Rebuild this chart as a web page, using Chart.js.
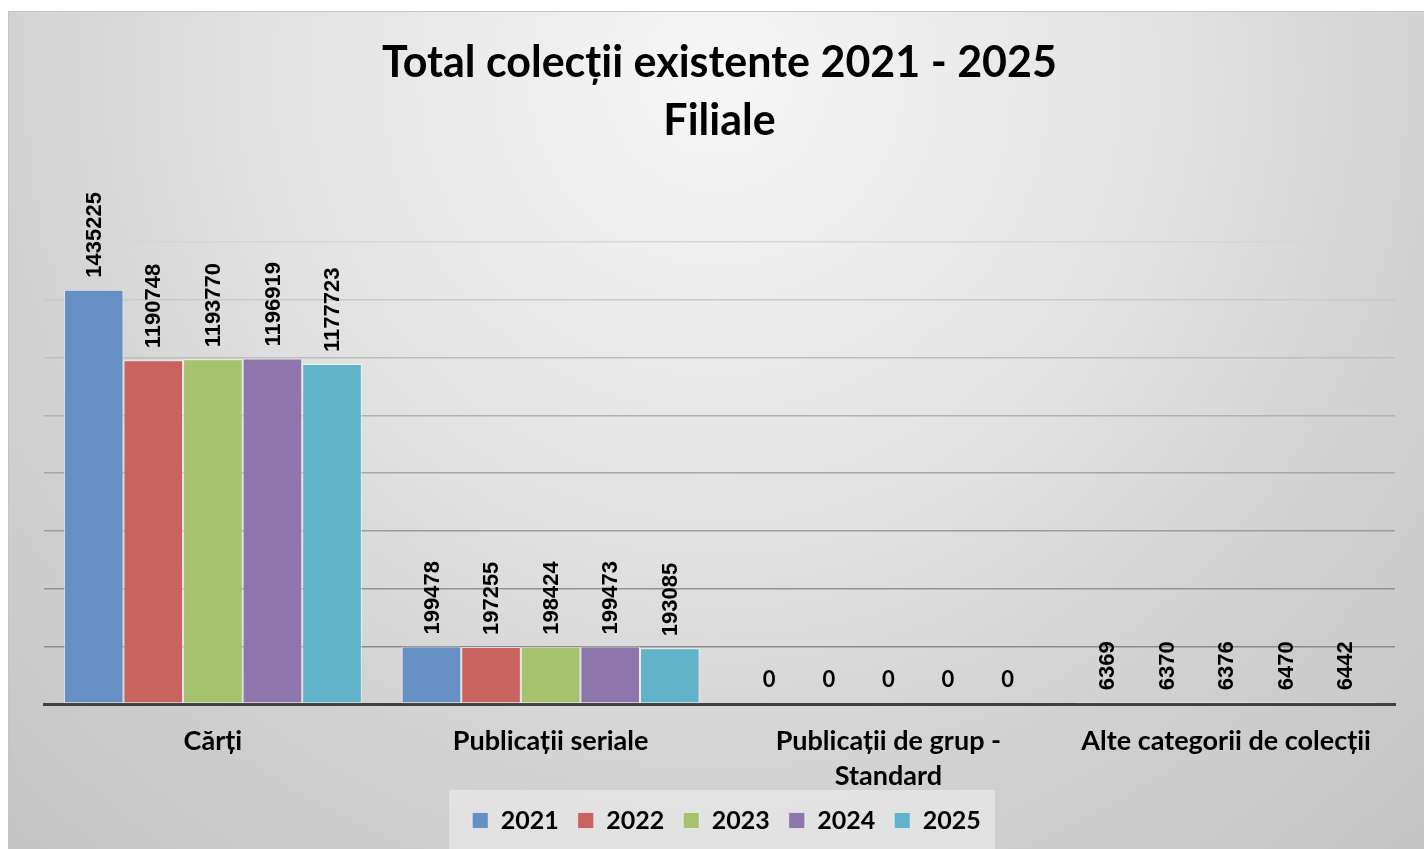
<!DOCTYPE html>
<html>
<head>
<meta charset="utf-8">
<script src="https://cdn.jsdelivr.net/npm/chart.js@4/dist/chart.umd.min.js"></script>
<style>
  html, body { margin: 0; padding: 0; background: #ffffff; width: 1424px; height: 849px; overflow: hidden; }
  #wrap { position: absolute; left: 8px; top: 11px; width: 1416px; height: 838px; }
  #wrap canvas { display: block; }
  #frame { position: absolute; left: 8px; top: 11px; width: 1416px; height: 838px; box-sizing: border-box; border-top: 1px solid #c4c4c4; border-left: 1px solid #c4c4c4; pointer-events: none; }
</style>
</head>
<body>
<div id="wrap"><canvas id="c" width="1416" height="838"></canvas></div>
<div id="frame"></div>
<script>
const titleLines = ['Total colecții existente 2021 - 2025', 'Filiale'];
const categories = ['Cărți', 'Publicații seriale', ['Publicații de grup -', 'Standard'], 'Alte categorii de colecții'];
const seriesNames = ['2021', '2022', '2023', '2024', '2025'];
const values2021 = [1435225, 199478, 0, 6369];
const values2022 = [1190748, 197255, 0, 6370];
const values2023 = [1193770, 198424, 0, 6376];
const values2024 = [1196919, 199473, 0, 6470];
const values2025 = [1177723, 193085, 0, 6442];
const seriesColors = ['#6690c4', '#c9635f', '#a6c26c', '#8e75ab', '#60b3c9'];
const yMax = 1600000;
const yStep = 200000;

const allValues = [values2021, values2022, values2023, values2024, values2025];

const bgPlugin = {
  id: 'bg',
  afterLayout(chart) {
    const lg = chart.legend;
    if (lg) { lg.left += 7; lg.right += 7; }
  },
  beforeDraw(chart) {
    const ctx = chart.ctx;
    const w = chart.width, h = chart.height;
    ctx.save();
    const g = ctx.createRadialGradient(w * 0.5, h * 0.08, 0, w * 0.5, h * 0.08, 1050);
    g.addColorStop(0, '#f6f6f6');
    g.addColorStop(0.45, '#e1e1e1');
    g.addColorStop(0.7, '#d1d1d1');
    g.addColorStop(1, '#c4c4c4');
    ctx.fillStyle = g;
    ctx.fillRect(0, 0, w, h);
    const lg = chart.legend;
    if (lg) {
      ctx.fillStyle = 'rgba(240,240,240,0.55)';
      ctx.fillRect(441, lg.top + 1, 546, h - lg.top);
    }
    ctx.restore();
  }
};

const labelPlugin = {
  id: 'valueLabels',
  afterDatasetsDraw(chart) {
    const ctx = chart.ctx;
    ctx.save();
    ctx.fillStyle = '#000000';
    chart.data.datasets.forEach((ds, di) => {
      const meta = chart.getDatasetMeta(di);
      meta.data.forEach((bar, i) => {
        const v = ds.data[i];
        if (v === 0) {
          ctx.font = 'bold 22px Lato';
          ctx.textAlign = 'center';
          ctx.textBaseline = 'bottom';
          ctx.fillText(String(v), bar.x, bar.y - 13);
        } else {
          ctx.font = 'bold 22px "Liberation Sans"';
          ctx.save();
          ctx.translate(bar.x, bar.y - 12);
          ctx.rotate(-Math.PI / 2);
          ctx.textAlign = 'left';
          ctx.textBaseline = 'middle';
          ctx.fillText(String(v), 0, 1);
          ctx.restore();
        }
      });
    });
    ctx.restore();
  }
};

function gridColor(ctx) {
  const v = ctx.tick ? ctx.tick.value : 0;
  if (v === 0) return 'rgba(0,0,0,0)';
  const t = v / yMax; // 0..1
  const c = Math.round(134 + (214 - 134) * Math.pow(t, 1.3));
  return 'rgb(' + c + ',' + c + ',' + c + ')';
}

new Chart(document.getElementById('c'), {
  type: 'bar',
  data: {
    labels: categories,
    datasets: seriesNames.map((name, i) => ({
      label: name,
      data: allValues[i],
      backgroundColor: seriesColors[i],
      borderColor: 'rgba(255,255,255,0.55)',
      borderWidth: 1,
      borderSkipped: false,
      categoryPercentage: 0.882,
      barPercentage: 1.0
    }))
  },
  options: {
    responsive: false,
    animation: false,
    devicePixelRatio: 1,
    layout: { padding: { left: 36, right: 29, top: 0, bottom: 6 } },
    plugins: {
      title: {
        display: true,
        text: titleLines,
        color: '#000000',
        font: { family: 'Lato', size: 43, weight: 'bold', lineHeight: 1.35 },
        padding: { top: 23, bottom: 92 }
      },
      legend: {
        display: true,
        position: 'bottom',
        labels: {
          color: '#000000',
          font: { family: 'Lato', size: 25, weight: 'bold' },
          boxWidth: 16,
          boxHeight: 16,
          padding: 19
        }
      },
      tooltip: { enabled: false }
    },
    scales: {
      x: {
        grid: { display: false, drawTicks: false },
        border: { display: true, color: '#404040', width: 3 },
        ticks: {
          color: '#000000',
          font: { family: 'Lato', size: 27, weight: 'bold', lineHeight: 1.3 },
          padding: 20,
          maxRotation: 0,
          autoSkip: false
        },
        afterFit(scale) { scale.height = 85; }
      },
      y: {
        min: 0,
        max: yMax,
        ticks: { display: false, stepSize: yStep },
        grid: { color: gridColor, lineWidth: 1.5, drawTicks: false },
        border: { display: false }
      }
    }
  },
  plugins: [bgPlugin, labelPlugin]
});
</script>
</body>
</html>
